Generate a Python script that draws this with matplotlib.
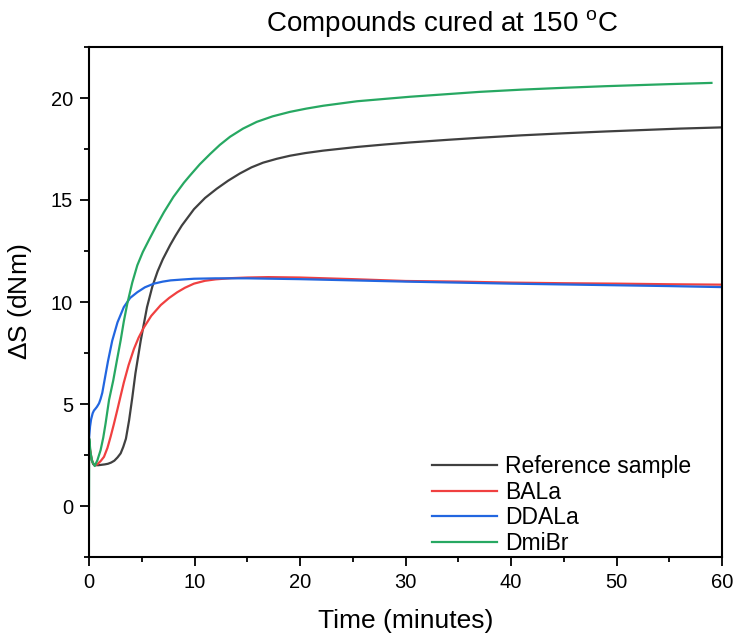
import matplotlib
matplotlib.use('Agg')
import matplotlib.pyplot as plt
from matplotlib.ticker import MultipleLocator

plt.rcParams['font.family'] = ['Liberation Sans', 'DejaVu Sans']
plt.rcParams['mathtext.fontset'] = 'custom'
plt.rcParams['mathtext.rm'] = 'Liberation Sans'

# Reference sample (black)
t_ref = [0, 0.1, 0.25, 0.4, 0.6, 0.9, 1.2, 1.5, 1.8, 2.1, 2.4, 2.7, 3.0, 3.25, 3.5,
         3.8, 4.1, 4.4, 4.9, 5.5, 6.0, 6.5, 7.0, 7.7, 8.2, 8.8, 9.95, 11.0, 12.1,
         13.2, 14.3, 15.4, 16.5, 17.8, 19.05, 20.5, 22.2, 25.4, 28.0, 30.4, 34.0,
         37.0, 41.0, 45.0, 49.0, 52.0, 56.0, 60.0]
y_ref = [3.3, 2.7, 2.25, 2.05, 2.0, 2.0, 2.02, 2.04, 2.07, 2.13, 2.22, 2.38, 2.58, 2.9, 3.3,
         4.2, 5.3, 6.5, 8.1, 9.75, 10.75, 11.5, 12.1, 12.8, 13.25, 13.75, 14.55, 15.1, 15.55,
         15.95, 16.3, 16.6, 16.83, 17.02, 17.17, 17.3, 17.42, 17.6, 17.72, 17.82, 17.95,
         18.05, 18.17, 18.27, 18.36, 18.42, 18.5, 18.56]

# BALa (red)
t_bala = [0, 0.1, 0.25, 0.4, 0.55, 0.8, 1.1, 1.42, 1.75, 2.05, 2.35, 2.68, 3.0, 3.3,
          3.75, 4.26, 4.7, 5.2, 5.9, 6.8, 7.6, 8.37, 9.1, 9.95, 11.0, 12.0, 13.5, 15.0,
          17.0, 20.0, 25.0, 30.0, 35.0, 40.0, 45.0, 50.0, 55.0, 60.0]
y_bala = [3.3, 2.75, 2.3, 2.08, 2.0, 2.05, 2.2, 2.41, 2.85, 3.4, 4.0, 4.7, 5.4, 6.05,
          6.9, 7.7, 8.25, 8.75, 9.32, 9.85, 10.2, 10.48, 10.7, 10.9, 11.04, 11.11, 11.17, 11.2,
          11.22, 11.2, 11.12, 11.03, 11.0, 10.95, 10.92, 10.9, 10.87, 10.85]

# DDALa (blue)
t_ddala = [0, 0.1, 0.2, 0.35, 0.47, 0.6, 0.75, 0.95, 1.1, 1.26, 1.52, 1.8, 2.2, 2.7,
           3.3, 3.9, 4.58, 5.3, 6.15, 7.0, 7.74, 8.8, 9.95, 12.0, 15.0, 20.0, 25.0, 30.0,
           35.0, 40.0, 45.0, 50.0, 55.0, 60.0]
y_ddala = [3.3, 3.9, 4.25, 4.55, 4.68, 4.76, 4.86, 5.03, 5.25, 5.55, 6.3, 7.1, 8.1, 9.0,
           9.75, 10.2, 10.48, 10.72, 10.9, 11.0, 11.06, 11.1, 11.14, 11.16, 11.16, 11.12, 11.06, 11.0,
           10.95, 10.9, 10.86, 10.82, 10.78, 10.73]

# DmiBr (green)
t_dmibr = [0, 0.02, 0.15, 0.3, 0.54, 0.8, 1.1, 1.35, 1.57, 1.9, 2.3, 2.65, 3.0, 3.3,
           3.63, 4.1, 4.58, 5.1, 5.69, 6.4, 7.1, 8.0, 9.0, 9.57, 10.5, 11.47, 12.4, 13.37,
           14.6, 15.9, 17.4, 19.05, 20.6, 22.2, 25.4, 30.4, 37.0, 41.0, 45.0, 49.0, 52.0,
           55.0, 59.0]
y_dmibr = [0.0, 3.3, 2.6, 2.2, 1.96, 2.25, 2.74, 3.35, 4.04, 5.2, 6.16, 7.15, 8.12, 9.05,
           9.92, 10.95, 11.8, 12.45, 13.05, 13.75, 14.4, 15.15, 15.85, 16.2, 16.75, 17.25, 17.7, 18.1,
           18.5, 18.83, 19.1, 19.32, 19.48, 19.62, 19.84, 20.06, 20.3, 20.41, 20.5, 20.58, 20.63,
           20.68, 20.74]

labels = ['Reference sample', 'BALa', 'DDALa', 'DmiBr']
colors = ['#404040', '#f04040', '#2266e0', '#27a862']

fig = plt.figure(figsize=(7.35, 6.36), dpi=100)
ax = fig.add_axes([89 / 735, 79 / 636, 633 / 735, 510 / 636])

series = [(t_ref, y_ref), (t_bala, y_bala), (t_ddala, y_ddala), (t_dmibr, y_dmibr)]
for (t, y), lab, c in zip(series, labels, colors):
    ax.plot(t, y, color=c, lw=1.6, label=lab)

ax.set_xlim(0, 60)
ax.set_ylim(-2.5, 22.5)
ax.xaxis.set_major_locator(MultipleLocator(10))
ax.xaxis.set_minor_locator(MultipleLocator(5))
ax.yaxis.set_major_locator(MultipleLocator(5))
ax.yaxis.set_minor_locator(MultipleLocator(2.5))
ax.tick_params(which='both', direction='out', top=False, right=False, width=1.3,
               labelsize=14.5, pad=5)
ax.tick_params(which='major', length=6.5)
ax.tick_params(which='minor', length=3.5)
for s in ax.spines.values():
    s.set_linewidth(1.5)

ax.set_xlabel('Time (minutes)', fontsize=19, labelpad=12)
ax.set_ylabel('$\\Delta$S (dNm)', fontsize=19, labelpad=12)
fig.text(442 / 735, (636 - 24) / 636, 'Compounds cured at 150 $^{\\rm o}$C',
         fontsize=20, ha='center', va='center')

ax.legend(loc='upper left', bbox_to_anchor=(432 / 735, (636 - 455) / 636),
          bbox_transform=fig.transFigure, frameon=False, fontsize=16.5,
          handlelength=2.85, handletextpad=0.35, labelspacing=0.12,
          borderpad=0, borderaxespad=0)

fig.savefig('out.png', dpi=100)
